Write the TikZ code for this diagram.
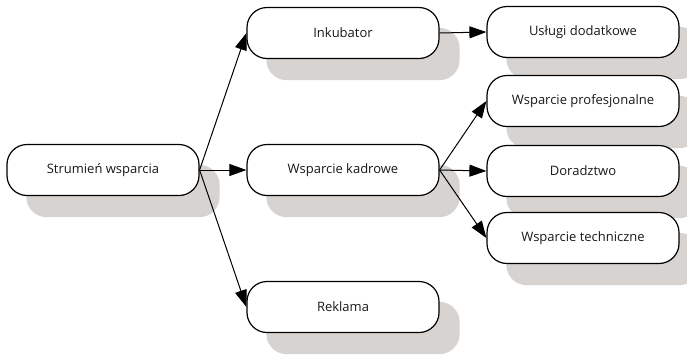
\documentclass[tikz,border=0pt]{standalone}
\usepackage{fontspec}
\setmainfont{Open Sans}
\usetikzlibrary{arrows.meta,backgrounds}
\definecolor{shadowgray}{RGB}{214,211,209}
\tikzset{
  x=1pt, y=-1pt,
  stepbox/.style={draw=black, line width=1.2pt, fill=white, rounded corners=20pt,
    minimum width=192pt, minimum height=51pt, inner sep=0pt,
    font=\fontsize{13pt}{15pt}\selectfont, text=black!90},
  link/.style={line width=1pt, -{Triangle[length=17pt,width=12pt]}},
}
\newcommand{\boxshadow}[1]{%
  \fill[shadowgray, rounded corners=20pt]
    ([shift={(20pt,-21pt)}]#1.south west) rectangle ([shift={(20pt,-21pt)}]#1.north east);}
\begin{document}
\begin{tikzpicture}
  \useasboundingbox (0,0) rectangle (687,354);

  % boxes
  \node[stepbox] (s)    at (103,170) {Strumień wsparcia};
  \node[stepbox] (inc)  at (343,33)  {Inkubator};
  \node[stepbox] (kad)  at (343,170) {Wsparcie kadrowe};
  \node[stepbox] (rek)  at (343,307) {Reklama};
  \node[stepbox] (usl)  at (583,32)  {Usługi dodatkowe};
  \node[stepbox] (prof) at (583,101) {Wsparcie profesjonalne};
  \node[stepbox] (dor)  at (583,171) {Doradztwo};
  \node[stepbox] (tech) at (583,238) {Wsparcie techniczne};

  % drop shadows behind every box
  \begin{scope}[on background layer]
    \foreach \n in {s,inc,kad,rek,usl,prof,dor,tech} {\boxshadow{\n}}
  \end{scope}

  % connectors
  \draw[link] (s.east) -- (inc.west);
  \draw[link] (s.east) -- (kad.west);
  \draw[link] (s.east) -- (rek.west);
  \draw[link] (inc.east) -- (usl.west);
  \draw[link] (kad.east) -- (prof.west);
  \draw[link] (kad.east) -- (dor.west);
  \draw[link] (kad.east) -- (tech.west);
\end{tikzpicture}
\end{document}
